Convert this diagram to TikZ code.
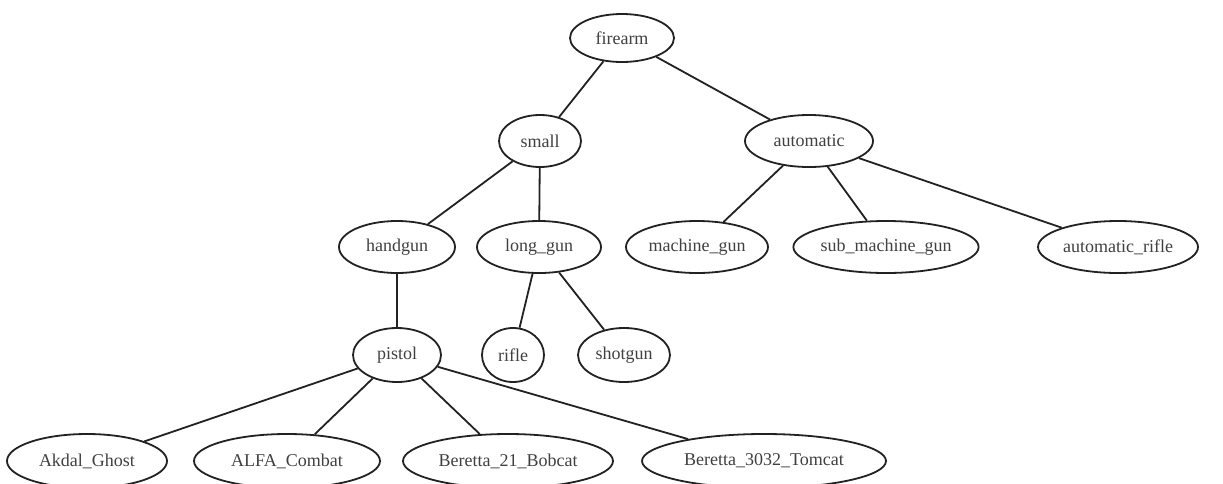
\documentclass[tikz,border=0pt]{standalone}
\usepackage{fontspec}
\setmainfont{Liberation Serif}
\usetikzlibrary{shapes.geometric}
\definecolor{ink}{HTML}{222222}
\definecolor{txt}{HTML}{404040}
\tikzset{
  gnode/.style={ellipse, draw=ink, line width=1.8pt, inner sep=0pt,
    text=txt, font=\fontsize{18}{20}\selectfont},
  gedge/.style={draw=ink, line width=1.8pt}
}
\newcommand{\gn}[6]{\node[gnode, minimum width=#4, minimum height=#5] (#1) at (#2,#3) {#6};}
\begin{document}
\begin{tikzpicture}[x=1pt,y=-1pt]
\useasboundingbox (0,0) rectangle (1223,483);
\fill[white] (0,0) rectangle (1223,483);
\gn{firearm}{622}{38}{104}{48}{firearm}
\gn{small}{540}{141}{82}{52}{small}
\gn{automatic}{809}{141}{128}{52}{automatic}
\gn{handgun}{397}{247}{116}{52}{handgun}
\gn{longgun}{539}{247}{124}{52}{long\_gun}
\gn{machinegun}{697}{247}{142}{52}{machine\_gun}
\gn{submachinegun}{886}{247}{160}{52}{sub\_machine\_gun}
\gn{autorifle}{1118}{247}{160}{52}{automatic\_rifle}
\gn{pistol}{397}{355}{88}{54}{pistol}
\gn{rifle}{513}{355}{62}{54}{rifle}
\gn{shotgun}{624}{355}{92}{54}{shotgun}
\gn{akdal}{87}{461}{160}{54}{Akdal\_Ghost}
\gn{alfa}{287}{461}{186}{54}{ALFA\_Combat}
\gn{bobcat}{508}{461}{210}{54}{Beretta\_21\_Bobcat}
\gn{tomcat}{764}{461}{244}{54}{Beretta\_3032\_Tomcat}
\draw[gedge] (firearm) -- (small);
\draw[gedge] (firearm) -- (automatic);
\draw[gedge] (small) -- (handgun);
\draw[gedge] (small) -- (longgun);
\draw[gedge] (automatic) -- (machinegun);
\draw[gedge] (automatic) -- (submachinegun);
\draw[gedge] (automatic) -- (autorifle);
\draw[gedge] (handgun) -- (pistol);
\draw[gedge] (longgun) -- (rifle);
\draw[gedge] (longgun) -- (shotgun);
\draw[gedge] (pistol) -- (akdal);
\draw[gedge] (pistol) -- (alfa);
\draw[gedge] (pistol) -- (bobcat);
\draw[gedge] (pistol) -- (tomcat);
\end{tikzpicture}
\end{document}
